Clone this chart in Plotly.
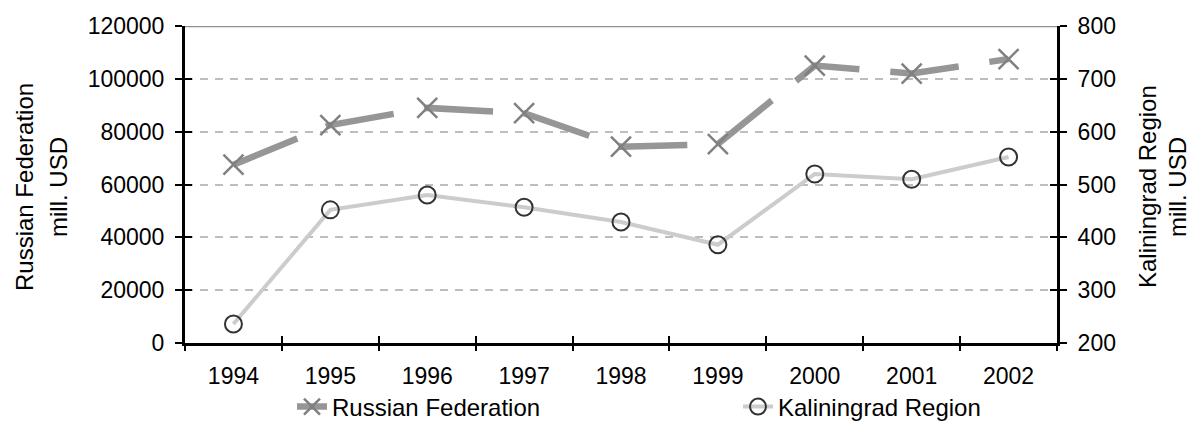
import plotly.graph_objects as go

years = [1994, 1995, 1996, 1997, 1998, 1999, 2000, 2001, 2002]
russia = [67500, 82500, 89000, 87000, 74300, 75300, 105000, 102000, 107500]
kaliningrad = [236, 452, 480, 457, 429, 386, 520, 510, 552]

left_ticks = [0, 20000, 40000, 60000, 80000, 100000, 120000]
right_ticks = [200, 300, 400, 500, 600, 700, 800]
boundaries = [y - 0.5 for y in years] + [years[-1] + 0.5]

FONT = "Liberation Sans, Arial, sans-serif"
W, H = 1191, 421
L, R, T, B = 185, 134, 26, 78
PW, PH = W - L - R, H - T - B

def px_x(p):
    return (p - L) / PW

def px_y(p):
    return (T + PH - p) / PH

fig = go.Figure()
fig.add_trace(go.Scatter(
    x=years, y=russia, name="Russian Federation", mode="lines+markers",
    line=dict(color="#969696", width=6.5, dash="69px,31px"),
    marker=dict(symbol="x-thin-open", size=20, color="#808080",
                line=dict(color="#808080", width=2.5)),
    yaxis="y", xaxis="x", legend="legend"))
fig.add_trace(go.Scatter(
    x=years, y=kaliningrad, name="Kaliningrad Region", mode="lines+markers",
    line=dict(color="#cccccc", width=4),
    marker=dict(symbol="circle-open", size=17, color="#333333",
                line=dict(color="#333333", width=2)),
    yaxis="y2", xaxis="x", legend="legend2"))
# invisible helper traces so the overlay tick axes (inner/outer tick halves) get drawn
fig.add_trace(go.Scatter(x=years, y=russia, xaxis="x2", yaxis="y3", mode="lines",
                         opacity=0, showlegend=False, hoverinfo="skip"))
fig.add_trace(go.Scatter(x=years, y=kaliningrad, xaxis="x3", yaxis="y4", mode="lines",
                         opacity=0, showlegend=False, hoverinfo="skip"))

xr = [boundaries[0], boundaries[-1]]
tickfont = dict(family=FONT, size=23, color="black")
legfont = dict(family=FONT, size=24, color="black")
tick_common = dict(ticklen=7, tickwidth=2, tickcolor="black", showticklabels=False,
                   showline=False, showgrid=False, zeroline=False)

fig.update_layout(
    width=W, height=H,
    margin=dict(l=L, r=R, t=T, b=B, autoexpand=False),
    paper_bgcolor="white", plot_bgcolor="white",
    font=dict(family=FONT, size=23, color="black"),
    showlegend=True, hovermode=False,
    legend=dict(orientation="h", x=px_x(332 - 40), xanchor="left",
                y=px_y(407), yanchor="middle", font=legfont,
                bgcolor="rgba(0,0,0,0)", borderwidth=0),
    legend2=dict(orientation="h", x=px_x(778 - 40), xanchor="left",
                 y=px_y(407), yanchor="middle", font=legfont,
                 bgcolor="rgba(0,0,0,0)", borderwidth=0),
    xaxis=dict(range=xr, tickvals=years, ticktext=[str(y) for y in years],
               ticks="", showline=True, linecolor="black", linewidth=3,
               showgrid=False, zeroline=False, tickfont=tickfont,
               ticklabelstandoff=10, anchor="y"),
    xaxis2=dict(range=xr, overlaying="x", anchor="y", tickvals=boundaries,
                ticks="outside", **tick_common),
    xaxis3=dict(range=xr, overlaying="x", anchor="y", tickvals=boundaries,
                ticks="inside", **tick_common),
    yaxis=dict(range=[0, 120000], tickvals=left_ticks,
               ticktext=[str(v) for v in left_ticks],
               ticks="outside", ticklen=7, tickwidth=2, tickcolor="black",
               showline=True, linecolor="black", linewidth=3,
               showgrid=True, gridcolor="#bdbdbd", gridwidth=2, griddash="8px,7px",
               zeroline=False, tickfont=tickfont, ticklabelstandoff=6, side="left"),
    yaxis2=dict(range=[200, 800], tickvals=right_ticks,
                ticktext=[str(v) for v in right_ticks],
                overlaying="y", side="right", anchor="x",
                ticks="outside", ticklen=7, tickwidth=2, tickcolor="black",
                showline=True, linecolor="black", linewidth=3,
                showgrid=False, zeroline=False, tickfont=tickfont, ticklabelstandoff=6),
    yaxis3=dict(range=[0, 120000], tickvals=left_ticks, overlaying="y", side="left",
                anchor="x", ticks="inside", **tick_common),
    yaxis4=dict(range=[200, 800], tickvals=right_ticks, overlaying="y", side="right",
                anchor="x", ticks="inside", **tick_common),
)

# solid top border line at the max of the left axis
fig.add_shape(type="line", xref="paper", yref="y", x0=0, x1=1,
              y0=left_ticks[-1], y1=left_ticks[-1],
              line=dict(color="#8f8f8f", width=2.5), layer="above")

for text, xp in [("Russian Federation", 25), ("mill. USD", 59),
                 ("Kaliningrad Region", 1148), ("mill. USD", 1178)]:
    fig.add_annotation(text=text, xref="paper", yref="paper", x=px_x(xp), y=px_y(187),
                       xanchor="center", yanchor="middle", textangle=-90,
                       showarrow=False, font=dict(family=FONT, size=24, color="black"))

fig.write_html(
    "out.html",
    config={"displayModeBar": False, "staticPlot": True},
    post_script="document.body.style.margin='0';document.body.style.padding='0';"
                "document.body.style.overflow='hidden';",
)
